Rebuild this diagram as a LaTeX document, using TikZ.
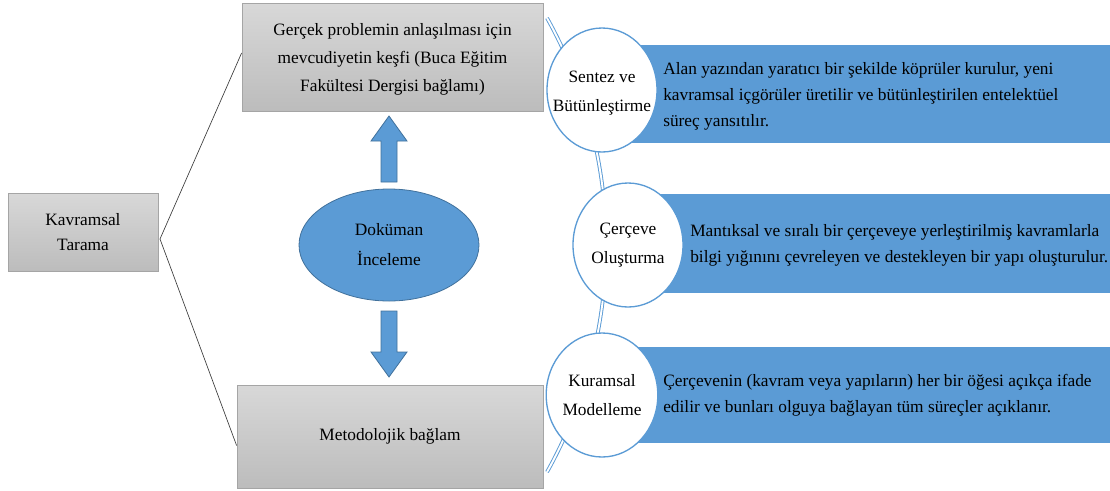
\documentclass[tikz,border=0pt]{standalone}
\usepackage{fontspec}
\setmainfont{Liberation Serif}
\newfontfamily\tnr{Liberation Serif}
\usetikzlibrary{shapes.geometric,calc}
\definecolor{bandblue}{RGB}{91,155,213}
\definecolor{darkblue}{RGB}{65,113,156}
\definecolor{boxtop}{RGB}{216,216,216}
\definecolor{boxbot}{RGB}{188,188,188}
\definecolor{boxline}{RGB}{165,165,165}
\definecolor{linkgray}{RGB}{60,60,60}
\begin{document}
\begin{tikzpicture}[x=0.75pt,y=-0.75pt,
  txt/.style={font=\tnr\fontsize{13}{20}\selectfont, inner sep=0pt},
  graybox/.style={txt, draw=boxline, line width=0.6pt, top color=boxtop, bottom color=boxbot, align=center},
  link/.style={draw=linkgray, line width=0.5pt},
  blockarrow/.style={fill=bandblue, draw=darkblue, line width=0.6pt},
  band/.style={fill=bandblue},
  stage/.style={txt, ellipse, draw=bandblue, fill=white, line width=1pt, align=center, minimum width=110*0.75pt, minimum height=124*0.75pt, font=\tnr\fontsize{13}{22}\selectfont},
  stagetext/.style={txt, align=center, font=\tnr\fontsize{13}{22}\selectfont},
  bandtext/.style={txt, anchor=west, align=left, font=\tnr\fontsize{13}{19.5}\selectfont},
  dbl/.style={draw=bandblue, line width=0.7pt, double=white, double distance=1.4pt}
]
\useasboundingbox (0,0) rectangle (1110,490);

% left boxes
\node[graybox, minimum width=150*0.75pt, minimum height=78*0.75pt, font=\tnr\fontsize{13}{18.75}\selectfont] (kt) at (83,232) {Kavramsal\\Tarama};
\node[graybox, minimum width=301*0.75pt, minimum height=108*0.75pt] (tb) at (392.5,57) {};
\node[txt, align=center, font=\tnr\fontsize{13}{21}\selectfont] (tbt) at (392.5,59) {Gerçek problemin anlaşılması için\\mevcudiyetin keşfi (Buca Eğitim\\Fakültesi Dergisi bağlamı)};
\node[graybox, minimum width=306*0.75pt, minimum height=103*0.75pt] (mb) at (390,436.5) {Metodolojik bağlam};

\coordinate (v) at (160,239);
\draw[link] (v) -- ($(tb.west)+(0,-4)$);
\draw[link] (v) -- ($(mb.west)+(0,9)$);

% document review ellipse
\node[txt, ellipse, fill=bandblue, draw=darkblue, line width=0.6pt, minimum width=180*0.75pt, minimum height=112*0.75pt, align=center, font=\tnr\fontsize{13}{22.5}\selectfont] (el) at (389,245) {Doküman\\İnceleme};

% block arrows
\filldraw[blockarrow] (389,116) -- (407,141) -- (397,141) -- (397,182) -- (381,182) -- (381,141) -- (371,141) -- cycle;
\filldraw[blockarrow] (381,311) -- (397,311) -- (397,352) -- (407,352) -- (389,377) -- (371,352) -- (381,352) -- cycle;

% bands
\fill[band] (630,45) rectangle (1110,143);
\fill[band] (650,194) rectangle (1110,293);
\fill[band] (630,347) rectangle (1110,443);

% curved double line
\coordinate (arcTop) at (547,18);
\draw[dbl] (arcTop) arc[start angle=29.18, end angle=-29.18, radius=349.2pt];

% stage circles
\node[stage] (c1) at (602,90) {};
\node[stagetext] (c1t) at (602,93) {Sentez ve\\Bütünleştirme};
\node[stage] (c2) at (628,245) {Çerçeve\\Oluşturma};
\node[stage] (c3) at (602,395) {Kuramsal\\Modelleme};

% band texts
\node[bandtext] (t1) at (663,96) {Alan yazından yaratıcı bir şekilde köprüler kurulur, yeni\\kavramsal içgörüler üretilir ve bütünleştirilen entelektüel\\süreç yansıtılır.};
\node[bandtext] (t2) at (690,245) {Mantıksal ve sıralı bir çerçeveye yerleştirilmiş kavramlarla\\bilgi yığınını çevreleyen ve destekleyen bir yapı oluşturulur.};
\node[bandtext] (t3) at (663,395) {Çerçevenin (kavram veya yapıların) her bir öğesi açıkça ifade\\edilir ve bunları olguya bağlayan tüm süreçler açıklanır.};
\end{tikzpicture}
\end{document}
